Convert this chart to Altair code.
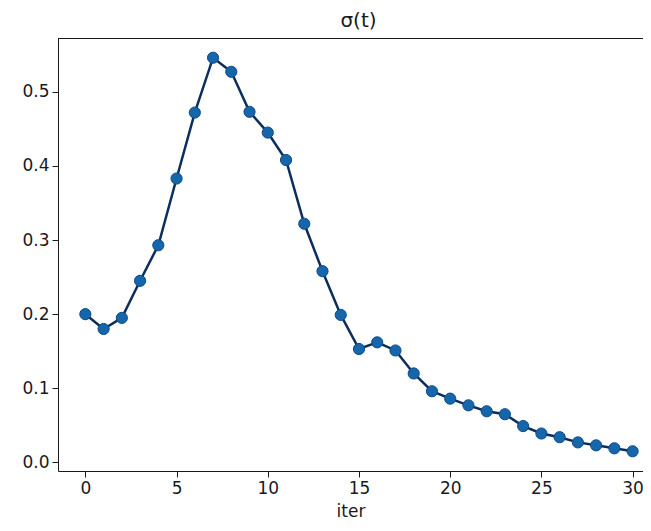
import altair as alt
import pandas as pd

iters = list(range(31))
sigma = [0.200, 0.180, 0.195, 0.245, 0.293, 0.383, 0.472, 0.546, 0.527, 0.473,
         0.445, 0.408, 0.322, 0.258, 0.199, 0.153, 0.162, 0.151, 0.120, 0.096,
         0.086, 0.077, 0.069, 0.065, 0.049, 0.039, 0.034, 0.027, 0.023, 0.019,
         0.015]
x_ticks = [0, 5, 10, 15, 20, 25, 30]
y_ticks = [0.0, 0.1, 0.2, 0.3, 0.4, 0.5]
title_text = "σ(t)"
x_title = "iter"

df = pd.DataFrame({"iter": iters, "sigma": sigma})

W, H = 585, 433
font = "DejaVu Sans"
ink = "#1a1a1a"

x = alt.X("iter:Q", scale=alt.Scale(domain=[-1.5, 30.57], nice=False, zero=False),
          axis=alt.Axis(values=x_ticks, title=x_title, grid=False, tickSize=6,
                        labelFontSize=17, titleFontSize=17, labelFont=font, titleFont=font,
                        labelColor=ink, titleColor=ink, titleFontWeight="normal",
                        domainColor=ink, tickColor=ink, labelPadding=3, titlePadding=7,
                        labelFlush=False))
y = alt.Y("sigma:Q", scale=alt.Scale(domain=[-0.0116, 0.5726], nice=False, zero=False),
          axis=alt.Axis(values=y_ticks, format=".1f", title=None, grid=False, tickSize=6,
                        labelFontSize=17, labelFont=font, labelColor=ink,
                        domainColor=ink, tickColor=ink, labelPadding=3,
                        labelFlush=False))

base = alt.Chart(df)
line = base.mark_line(color="#0b2e5c", strokeWidth=2.5, clip=True).encode(x=x, y=y)
pts = base.mark_point(filled=True, shape="circle", size=125, color="#1566aa",
                      stroke="#0d4b86", strokeWidth=1, opacity=1, clip=True).encode(x=x, y=y)
top = alt.Chart(df).mark_rule(color=ink, strokeWidth=1.2).encode(
    x=alt.value(0), x2=alt.value(W), y=alt.value(0.5))

chart = alt.layer(line, pts, top).properties(
    width=W, height=H,
    title=alt.TitleParams(title_text, fontSize=20, font=font, fontWeight="normal",
                          color=ink, offset=7, dx=8),
    autosize=alt.AutoSizeParams(type="none"),
    padding={"left": 50, "top": 30, "right": 0, "bottom": 52},
).configure_view(stroke=None)

chart.save("out.html", embed_options={"renderer": "svg", "actions": False})
